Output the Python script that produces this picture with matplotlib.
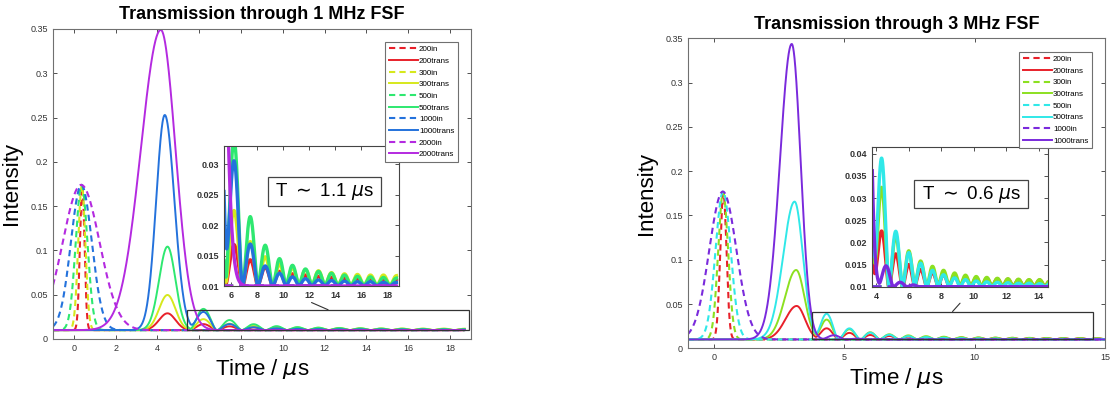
import numpy as np
import matplotlib.pyplot as plt
from matplotlib.patches import Rectangle, ConnectionPatch
from matplotlib.ticker import FuncFormatter

plt.rcParams['font.family'] = ['Liberation Sans', 'DejaVu Sans']

base = 0.01

# ---- 1 MHz FSF (left) ----
labels_1 = ['200', '300', '500', '1000', '2000']
colors_1 = ['#e8202a', '#d6e81c', '#2ee870', '#2472dc', '#b42ae0']
in_center_1 = [0.40, 0.38, 0.37, 0.36, 0.35]
in_peak_1 = [0.172, 0.173, 0.174, 0.174, 0.174]
in_width_1 = [0.11, 0.17, 0.28, 0.50, 0.88]
tr_center_1 = [4.48, 4.48, 4.48, 4.35, 4.16]
tr_peak_1 = [0.029, 0.0497, 0.1043, 0.2529, 0.349]
tr_wl_1 = [0.40, 0.40, 0.40, 0.41, 0.95]
tr_wr_1 = [0.38, 0.38, 0.38, 0.46, 0.70]
ring_t_1 = [6.2, 7.45, 8.6, 9.7, 10.7, 11.7, 12.7, 13.7, 14.7, 15.7, 16.7, 17.7, 18.7]
ring_h_1 = [
    [0.0168, 0.0143, 0.0131, 0.0124, 0.0120, 0.0118, 0.0116, 0.0114, 0.0113, 0.0112, 0.0112, 0.0111, 0.0111],
    [0.0224, 0.0173, 0.0148, 0.0136, 0.0130, 0.0127, 0.0125, 0.0122, 0.0120, 0.0119, 0.0118, 0.0118, 0.0117],
    [0.0340, 0.0214, 0.0167, 0.0145, 0.0134, 0.0128, 0.0124, 0.0121, 0.0118, 0.0116, 0.0115, 0.0114, 0.0113],
    [0.0305, 0.0169, 0.0133, 0.0121, 0.0115, 0.0112, 0.0110, 0.0109, 0.0108, 0.0107, 0.0107, 0.0106, 0.0106],
    [0.0100, 0.0100, 0.0100, 0.0100, 0.0100, 0.0100, 0.0100, 0.0100, 0.0100, 0.0100, 0.0100, 0.0100, 0.0100],
]

# ---- 3 MHz FSF (right) ----
labels_3 = ['200', '300', '500', '1000']
colors_3 = ['#e8202a', '#8ce020', '#30e8e8', '#7a2adc']
in_center_3 = [0.37, 0.36, 0.36, 0.35]
in_peak_3 = [0.175, 0.176, 0.177, 0.177]
in_width_3 = [0.12, 0.19, 0.29, 0.52]
tr_center_3 = [3.18, 3.16, 3.10, 2.99]
tr_peak_3 = [0.0478, 0.0884, 0.1656, 0.3436]
tr_wl_3 = [0.43, 0.43, 0.44, 0.45]
tr_wr_3 = [0.32, 0.32, 0.32, 0.34]
ring_t_3 = [4.33, 5.2, 6.0, 6.73, 7.46, 8.14, 8.82, 9.49, 10.15, 10.8, 11.45, 12.1, 12.75, 13.4, 14.05, 14.7]
ring_shift_3 = [0.0, 0.0, 0.0, 0.27]
ring_h_3 = [
    [0.0225, 0.0174, 0.0150, 0.0139, 0.0132, 0.0127, 0.0124, 0.0122, 0.0120, 0.0119, 0.0118, 0.0117, 0.0116, 0.0115, 0.0115, 0.0114],
    [0.0323, 0.0215, 0.0181, 0.0158, 0.0146, 0.0137, 0.0131, 0.0126, 0.0123, 0.0121, 0.0119, 0.0118, 0.0117, 0.0116, 0.0116, 0.0115],
    [0.0389, 0.0225, 0.0177, 0.0153, 0.0137, 0.0127, 0.0120, 0.0116, 0.0113, 0.0111, 0.0110, 0.0109, 0.0108, 0.0108, 0.0107, 0.0107],
    [0.0147, 0.0110, 0.0104, 0.0100, 0.0100, 0.0100, 0.0100, 0.0100, 0.0100, 0.0100, 0.0100, 0.0100, 0.0100, 0.0100, 0.0100, 0.0100],
]


def bump(t, c, w):
    return np.exp(-0.5 * ((t - c) / w) ** 2)


def ring(t, c, hw):
    d = np.clip(np.abs(t - c) / hw, 0, 1)
    return np.cos(0.5 * np.pi * d) ** 1.5


def trans_curve(t, c, peak, wl, wr, rt, rh):
    w = np.where(t < c, wl, wr)
    y = base + (peak - base) * bump(t, c, w)
    gaps = np.diff(rt)
    for k, (tt, hh) in enumerate(zip(rt, rh)):
        hw = 0.5 * (gaps[k] if k < len(gaps) else gaps[-1])
        y = y + (hh - base) * ring(t, tt, hw)
    return y


def style_axes(ax, size, bold=False, color='#707070'):
    ax.tick_params(direction='in', top=True, right=True, length=3, width=0.6,
                   labelsize=size, colors='#333333')
    for lab in ax.get_xticklabels() + ax.get_yticklabels():
        lab.set_fontweight('bold' if bold else 'normal')
    for s in ax.spines.values():
        s.set_color(color)
        s.set_linewidth(0.8)
    ax.yaxis.set_major_formatter(FuncFormatter(lambda v, p: f'{v:g}'))


def panel(fig, pos, inset_pos, title, labels, colors, inc, inp, inw, trc, trp, trwl, trwr,
          rt, rh, shifts, t_end, xlim, xticks, zoom_x, zoom_y, in_xticks, in_yticks,
          tlabel, box, leg_anchor):
    ax = fig.add_axes(pos)
    t = np.linspace(-1, t_end, 4000)
    curves = []
    for i, lab in enumerate(labels):
        y_in = base + (inp[i] - base) * bump(t, inc[i], inw[i])
        rts = [r + shifts[i] for r in rt]
        y_tr = trans_curve(t, trc[i], trp[i], trwl[i], trwr[i], rts, rh[i])
        ax.plot(t, y_in, color=colors[i], lw=1.5, ls=(0, (3, 2)), label=lab + 'in')
        ax.plot(t, y_tr, color=colors[i], lw=1.4, label=lab + 'trans')
        curves.append((y_in, y_tr))
    ax.set_xlim(*xlim)
    ax.set_ylim(0, 0.35)
    ax.set_xticks(xticks)
    ax.set_yticks(np.arange(0, 0.351, 0.05))
    style_axes(ax, 6.5)
    ax.set_title(title, fontsize=13, fontweight='bold', pad=7)
    ax.set_xlabel(r'Time / $\mu$s', fontsize=16, labelpad=3)
    ax.set_ylabel('Intensity', fontsize=16, labelpad=6)
    ax.add_patch(Rectangle((zoom_x[0], zoom_y[0]), zoom_x[1] - zoom_x[0], zoom_y[1] - zoom_y[0],
                           fill=False, ec='#333333', lw=0.9, zorder=5))

    axi = fig.add_axes(inset_pos)
    for i in range(len(labels)):
        axi.plot(t, curves[i][0], color=colors[i], lw=2.2, ls=(0, (3, 2)))
        axi.plot(t, curves[i][1], color=colors[i], lw=2.4)
    axi.set_xlim(*zoom_x)
    axi.set_ylim(*zoom_y)
    axi.set_xticks(in_xticks)
    axi.set_yticks(in_yticks)
    style_axes(axi, 6.5, bold=True, color='#444444')
    axi.add_patch(Rectangle((box[0], box[1]), box[2], box[3], transform=axi.transAxes,
                            fc='white', ec='#444444', lw=0.9, zorder=6))
    axi.text(box[0] + box[2] / 2, box[1] + box[3] / 2, tlabel, transform=axi.transAxes,
             ha='center', va='center', fontsize=13.5, zorder=7)

    con = ConnectionPatch(xyA=(0.5, -0.118), coordsA=axi.transAxes,
                          xyB=((zoom_x[0] + zoom_x[1]) / 2, zoom_y[1]), coordsB=ax.transData,
                          color='#333333', lw=0.8)
    fig.add_artist(con)

    h, l = ax.get_legend_handles_labels()
    leg = fig.legend(h, l, loc='upper right', bbox_to_anchor=leg_anchor, fontsize=5.8,
                     handlelength=3.6, handletextpad=0.15, labelspacing=0.5, borderpad=0.45,
                     fancybox=False, framealpha=1, edgecolor='#707070')
    leg.get_frame().set_linewidth(0.8)
    return ax


fig = plt.figure(figsize=(11.1, 3.94), dpi=100)

panel(fig, [0.0477, 0.1396, 0.3766, 0.7868], [0.2018, 0.2741, 0.1577, 0.3553],
      'Transmission through 1 MHz FSF', labels_1, colors_1, in_center_1, in_peak_1, in_width_1,
      tr_center_1, tr_peak_1, tr_wl_1, tr_wr_1, ring_t_1, ring_h_1, [0] * 5,
      18.7, (-1, 19), np.arange(0, 19, 2), (5.43, 18.9), (0.01, 0.033),
      np.arange(6, 19, 2), np.arange(0.01, 0.0301, 0.005),
      r'T $\sim$ 1.1 $\mu$s', (0.251, 0.571, 0.646, 0.208), (462 / 1110, 1 - 38 / 394))

panel(fig, [0.6195, 0.1160, 0.3760, 0.7868], [0.7859, 0.2723, 0.1580, 0.3546],
      'Transmission through 3 MHz FSF', labels_3, colors_3, in_center_3, in_peak_3, in_width_3,
      tr_center_3, tr_peak_3, tr_wl_3, tr_wr_3, ring_t_3, ring_h_3, ring_shift_3,
      15, (-1, 15), [0, 5, 10, 15], (3.76, 14.55), (0.01, 0.0415),
      np.arange(4, 15, 2), np.arange(0.01, 0.0401, 0.005),
      r'T $\sim$ 0.6 $\mu$s', (0.239, 0.561, 0.647, 0.203), (1096 / 1110, 1 - 47.7 / 394))

fig.savefig('out.png', dpi=100)
